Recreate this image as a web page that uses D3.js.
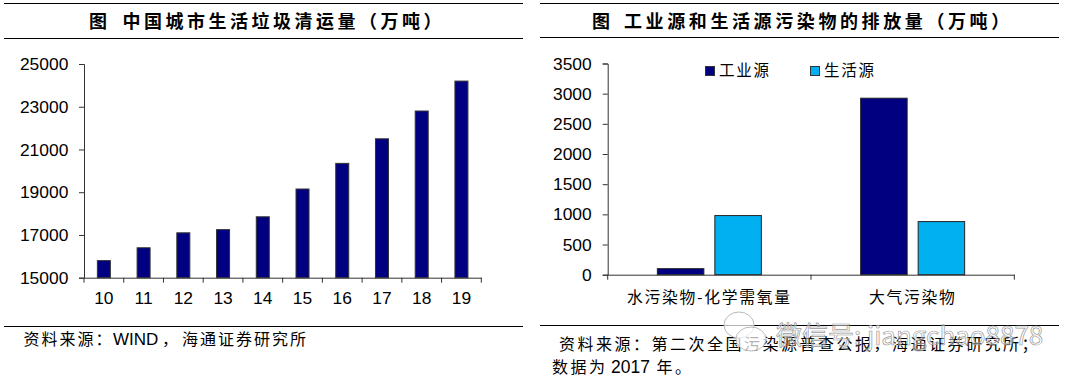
<!DOCTYPE html>
<html><head><meta charset="utf-8">
<script src="https://cdn.jsdelivr.net/npm/d3@7/dist/d3.min.js"></script>
<style>html,body{margin:0;padding:0;background:#fff}svg{display:block}
text{font-family:"Liberation Sans",Arial,"Noto Sans CJK SC",sans-serif;fill:#000}
.cn{font-family:"Noto Sans CJK SC",sans-serif}</style></head><body>
<script>
const years=["10","11","12","13","14","15","16","17","18","19"];
const volume=[15800,16400,17100,17250,17850,19150,20350,21500,22800,24200];
const volumeTicks=[15000,17000,19000,21000,23000,25000];
const sources=["工业源","生活源"];
const pollutants=["水污染物-化学需氧量","大气污染物"];
const industrial=[100,2925];
const domestic=[980,880];
const shareTicks=[0,500,1000,1500,2000,2500,3000,3500];
const navy="#000080",cyan="#00B0F0";

const svg=d3.select("body").append("svg").attr("width",1079).attr("height",384);
function rule(x1,x2,y){svg.append("line").attr("x1",x1).attr("x2",x2).attr("y1",y).attr("y2",y).attr("stroke","#000").attr("stroke-width",1);}
function txt(x,y,s,size,opt={}){return svg.append("text").attr("class","cn").attr("x",x).attr("y",y).attr("font-size",size)
  .attr("text-anchor",opt.anchor||"start").attr("font-weight",opt.weight||400).style("letter-spacing",(opt.ls||0)+"px").text(s);}
[[4,523,3.5],[4,523,38.5],[4,523,326.5],[540,1059,3.5],[540,1059,37.5],[540,1059,325.5]].forEach(r=>rule(...r));

txt(89,28,"图",18,{weight:700});
txt(122.5,28,"中国城市生活垃圾清运量（万吨）",18,{weight:700,ls:3.5});
txt(592,28,"图",18,{weight:700});
txt(624,28,"工业源和生活源污染物的排放量（万吨）",18,{weight:700,ls:3.6});

function styleAxis(g){g.selectAll(".domain,.tick line").attr("stroke","#333").attr("stroke-width",1);}
const AX=17.4;

// left chart
const xL=d3.scaleBand().domain(years).range([84,481.3]);
const yL=d3.scaleLinear().domain([15000,25000]).range([277.7,64]);
const gLy=svg.append("g").attr("transform","translate(84,0)")
  .call(d3.axisLeft(yL).tickValues(volumeTicks).tickSize(5).tickPadding(10.7).tickFormat(d3.format("d")));
gLy.selectAll("text").attr("font-size",AX).attr("font-family","Liberation Sans");
styleAxis(gLy);
svg.append("g").selectAll("rect").data(volume).join("rect")
  .attr("x",(d,i)=>xL(years[i])+xL.bandwidth()/2-6.5).attr("width",13)
  .attr("y",d=>yL(d)).attr("height",d=>yL(15000)-yL(d))
  .attr("fill",navy).attr("stroke","#333").attr("stroke-width",1);
const gLx=svg.append("g").attr("transform","translate(0,277.7)")
  .call(d3.axisBottom(xL).tickSize(0).tickPadding(14));
gLx.selectAll("text").attr("font-size",AX).attr("font-family","Liberation Sans");
styleAxis(gLx);
gLx.selectAll(".bt").data(d3.range(years.length+1)).join("line").attr("class","bt")
  .attr("x1",i=>84+i*xL.step()).attr("x2",i=>84+i*xL.step()).attr("y1",0).attr("y2",5).attr("stroke","#333");
txt(23.5,345,"资料来源：",16,{ls:2});
svg.append("text").attr("x",113).attr("y",345).attr("font-size",17).text("WIND");
txt(162,345,"，",16);
txt(182,345,"海通证券研究所",16,{ls:2});

// right chart
const xR=d3.scaleBand().domain(pollutants).range([607.7,1014.3]);
const yR=d3.scaleLinear().domain([0,3500]).range([274.7,63.5]);
const gRy=svg.append("g").attr("transform","translate(607.7,0)")
  .call(d3.axisLeft(yR).tickValues(shareTicks).tickSize(5).tickPadding(11).tickFormat(d3.format("d")));
gRy.selectAll("text").attr("font-size",AX).attr("font-family","Liberation Sans");
styleAxis(gRy);
const bw=46.5;
function bars(vals,fill,off){svg.append("g").selectAll("rect").data(vals).join("rect")
  .attr("x",(d,i)=>xR(pollutants[i])+xR.bandwidth()/2+off).attr("width",bw)
  .attr("y",d=>yR(d)).attr("height",d=>yR(0)-yR(d))
  .attr("fill",fill).attr("stroke","#222").attr("stroke-width",1);}
bars(industrial,navy,-bw-5.5);
bars(domestic,cyan,5.5);
const gRx=svg.append("g").attr("transform","translate(0,274.7)")
  .call(d3.axisBottom(xR).tickSize(0).tickFormat(()=>""));
styleAxis(gRx);
gRx.selectAll(".bt").data(d3.range(pollutants.length+1)).join("line").attr("class","bt")
  .attr("x1",i=>607.7+i*xR.step()).attr("x2",i=>607.7+i*xR.step()).attr("y1",0).attr("y2",5).attr("stroke","#333");
pollutants.forEach(p=>{txt(xR(p)+xR.bandwidth()/2,303,p,15.8,{anchor:"middle",ls:1.7});});

// legend
const lx=d3.scaleOrdinal().domain(sources).range([705,810]);
sources.forEach((s,i)=>{
  svg.append("rect").attr("x",lx(s)+.5).attr("y",66.5).attr("width",9).attr("height",9)
    .attr("fill",i?cyan:navy).attr("stroke","#333");
  txt(lx(s)+14,76,s,15.5,{ls:1.8});
});

txt(559,350,"资料来源：第二次全国污染源普查公报，海通证券研究所；",16,{ls:2.5});
txt(552,373,"数据为",16,{ls:2.5});
svg.append("text").attr("x",611).attr("y",373).attr("font-size",17.5).text("2017");
txt(656.5,373,"年。",16,{ls:2.5});

// watermark
const wm=svg.append("g").attr("fill","none").attr("stroke","#bbb");
wm.append("ellipse").attr("cx",739).attr("cy",325).attr("rx",15).attr("ry",13).attr("fill","#fff").attr("fill-opacity",.7);
wm.append("ellipse").attr("cx",751).attr("cy",339).attr("rx",15).attr("ry",12).attr("fill","#fff").attr("fill-opacity",.7);
svg.append("text").attr("class","cn").attr("x",776).attr("y",345).attr("font-size",26)
  .style("fill","#fff").style("fill-opacity",.4).attr("stroke","#999").attr("stroke-width",.7).text("微信号: jiangchao8878");
</script></body></html>
